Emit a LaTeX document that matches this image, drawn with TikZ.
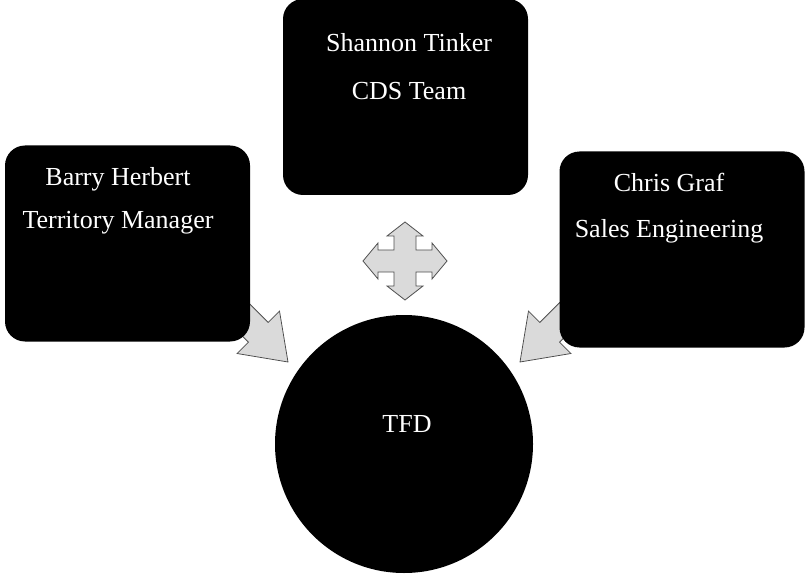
\documentclass[tikz,border=0pt]{standalone}
\usepackage{fontspec}
\setmainfont{Liberation Serif}
\usepackage{tikz}
\usetikzlibrary{calc}
\definecolor{ArrowGray}{HTML}{DADADA}
\definecolor{ArrowEdge}{HTML}{505050}

\begin{document}
\begin{tikzpicture}[x=1pt,y=1pt,
    memberbox/.style={fill=black,rounded corners=20pt,inner sep=0pt,
        minimum width=245pt,minimum height=196pt},
    hubcircle/.style={circle,fill=black,inner sep=0pt,minimum size=258pt},
    nametext/.style={text=white,anchor=base,inner sep=0pt,
        font=\fontsize{26}{31}\selectfont},
    blockarrow/.style={fill=ArrowGray,draw=ArrowEdge,line width=0.8pt,line join=miter}]
    \useasboundingbox (0,0) rectangle (805,-577);

    % side arrows, drawn first so the boxes cover their tails
    \begin{scope}[shift={(288,-362)},rotate=-45]
        \draw[blockarrow] (0,0) -- (-42,30) -- (-42,14) -- (-70,14)
            -- (-70,-14) -- (-42,-14) -- (-42,-30) -- cycle;
    \end{scope}
    \begin{scope}[shift={(520,-362)},rotate=-135]
        \draw[blockarrow] (0,0) -- (-42,30) -- (-42,14) -- (-70,14)
            -- (-70,-14) -- (-42,-14) -- (-42,-30) -- cycle;
    \end{scope}

    % cross arrow under the top box
    \begin{scope}[shift={(405,-261)}]
        \draw[blockarrow] (11,11) -- (27,11) -- (27,18) -- (42,0) -- (27,-18)
            -- (27,-11) -- (11,-11) -- (11,-25) -- (18,-25) -- (0,-39)
            -- (-18,-25) -- (-11,-25) -- (-11,-11) -- (-27,-11) -- (-27,-18)
            -- (-42,0) -- (-27,18) -- (-27,11) -- (-11,11) -- (-11,25)
            -- (-18,25) -- (0,39) -- (18,25) -- (11,25) -- cycle;
    \end{scope}

    \node[memberbox] (barry) at (127.5,-243.5) {};
    \node[memberbox] (shannon) at (405.5,-97) {};
    \node[memberbox] (chris) at (682,-249.5) {};
    \node[hubcircle] (tfd) at (404,-444) {};

    \node[nametext] (barryname) at (118,-186) {Barry Herbert};
    \node[nametext] (barryrole) at (118,-229) {Territory Manager};
    \node[nametext] (shannonname) at (409,-52) {Shannon Tinker};
    \node[nametext] (shannonrole) at (409,-100) {CDS Team};
    \node[nametext] (chrisname) at (669,-192) {Chris Graf};
    \node[nametext] (chrisrole) at (669,-237) {Sales Engineering};
    \node[nametext] (tfdname) at (407,-432) {TFD};
\end{tikzpicture}
\end{document}
